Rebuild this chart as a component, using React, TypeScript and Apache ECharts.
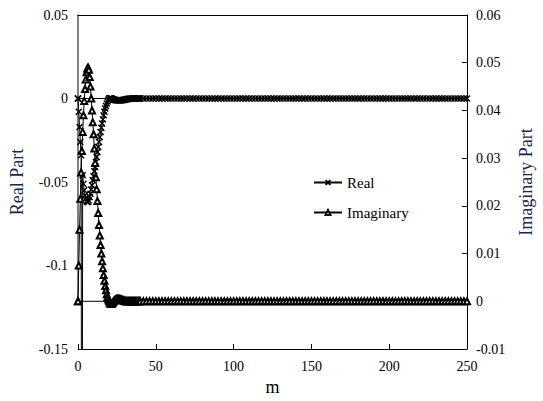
import React, { useEffect, useRef } from "react";
import * as echarts from "echarts";

// m values: first entry is the off-chart start of the imaginary trace, last entry is the return to origin
const mValues = [
  0,
  0, 0.5, 1, 1.5, 2, 2.5, 3, 3.5, 4, 4.5, 5, 5.5, 6, 6.5, 7, 7.5, 8, 8.5, 9, 9.5,
  10, 10.5, 11, 11.5, 12, 12.5, 13, 13.5, 14, 14.5, 15, 15.5, 16, 16.5, 17, 17.5, 18, 18.5, 19, 19.5,
  20, 20.5, 21, 21.5, 22, 22.5, 23, 23.5, 24, 24.5, 25, 25.5, 26, 26.5, 27, 27.5, 28, 28.5, 29, 29.5,
  30, 30.5, 31, 31.5, 32, 32.5, 33, 33.5, 34, 34.5, 35, 35.5, 36, 36.5, 37, 37.5, 38, 38.5, 39, 39.5, 40,
  42, 44, 46, 48, 50, 52, 54, 56, 58, 60,
  62, 64, 66, 68, 70, 72, 74, 76, 78, 80,
  82, 84, 86, 88, 90, 92, 94, 96, 98, 100,
  102, 104, 106, 108, 110, 112, 114, 116, 118, 120,
  122, 124, 126, 128, 130, 132, 134, 136, 138, 140,
  142, 144, 146, 148, 150, 152, 154, 156, 158, 160,
  162, 164, 166, 168, 170, 172, 174, 176, 178, 180,
  182, 184, 186, 188, 190, 192, 194, 196, 198, 200,
  202, 204, 206, 208, 210, 212, 214, 216, 218, 220,
  222, 224, 226, 228, 230, 232, 234, 236, 238, 240,
  242, 244, 246, 248, 250,
  0,
];

const realPart = [
  0,
  0, -0.008, -0.017, -0.026, -0.034, -0.4, -0.046, -0.051, -0.055, -0.058, -0.06, -0.0615, -0.062, -0.062, -0.061, -0.059, -0.057, -0.0545, -0.052, -0.049,
  -0.0465, -0.0435, -0.041, -0.038, -0.035, -0.032, -0.029, -0.026, -0.023, -0.02, -0.0175, -0.015, -0.0125, -0.01, -0.008, -0.006, -0.0045, -0.003, -0.0018, -0.0008,
  0, 0.0002, 0.0002, 0, -0.0003, -0.0005, -0.0007, -0.0008, -0.0009, -0.001, -0.0011, -0.0011, -0.0012, -0.0012, -0.0012, -0.0011, -0.0011, -0.001, -0.0009, -0.0008,
  -0.0007, -0.0006, -0.0005, -0.0004, -0.0003, -0.0002, -0.0002, -0.0001, -0.0001, 0, 0, 0, 0, 0, 0, 0, 0, 0, 0, 0, 0,
  0, 0, 0, 0, 0, 0, 0, 0, 0, 0, 0, 0, 0, 0, 0,
  0, 0, 0, 0, 0, 0, 0, 0, 0, 0, 0, 0, 0, 0, 0,
  0, 0, 0, 0, 0, 0, 0, 0, 0, 0, 0, 0, 0, 0, 0,
  0, 0, 0, 0, 0, 0, 0, 0, 0, 0, 0, 0, 0, 0, 0,
  0, 0, 0, 0, 0, 0, 0, 0, 0, 0, 0, 0, 0, 0, 0,
  0, 0, 0, 0, 0, 0, 0, 0, 0, 0, 0, 0, 0, 0, 0,
  0, 0, 0, 0, 0, 0, 0, 0, 0, 0, 0, 0, 0, 0, 0,
  0,
];

const imaginaryPart = [
  0.2,
  0, 0.0075, 0.015, 0.0215, 0.027, 0.0315, 0.0355, 0.039, 0.042, 0.0445, 0.0465, 0.048, 0.0488, 0.049, 0.0485, 0.047, 0.045, 0.0425, 0.04, 0.0375,
  0.035, 0.032, 0.029, 0.026, 0.0235, 0.021, 0.0185, 0.016, 0.0138, 0.0118, 0.01, 0.0084, 0.0069, 0.0055, 0.0043, 0.0032, 0.0023, 0.0015, 0.0009, 0.0004,
  0, -0.0003, -0.0005, -0.0005, -0.0004, -0.0002, 0, 0.0002, 0.0003, 0.0004, 0.0005, 0.0005, 0.0005, 0.0005, 0.0004, 0.0004, 0.0003, 0.0002, 0.0002, 0.0001,
  0.0001, 0, 0, 0, 0, 0, 0, 0, 0, 0, 0, 0, 0, 0, 0, 0, 0, 0, 0, 0, 0,
  0, 0, 0, 0, 0, 0, 0, 0, 0, 0, 0, 0, 0, 0, 0,
  0, 0, 0, 0, 0, 0, 0, 0, 0, 0, 0, 0, 0, 0, 0,
  0, 0, 0, 0, 0, 0, 0, 0, 0, 0, 0, 0, 0, 0, 0,
  0, 0, 0, 0, 0, 0, 0, 0, 0, 0, 0, 0, 0, 0, 0,
  0, 0, 0, 0, 0, 0, 0, 0, 0, 0, 0, 0, 0, 0, 0,
  0, 0, 0, 0, 0, 0, 0, 0, 0, 0, 0, 0, 0, 0, 0,
  0, 0, 0, 0, 0, 0, 0, 0, 0, 0, 0, 0, 0, 0, 0,
  0,
];

const FONT = "Liberation Serif";
const NAME_COLOR = "#1c2648";
const CROSS = "path://M0,0L10,10M10,0L0,10";

const fmt = (v: number) => String(Number(v.toFixed(2)));

export default function App() {
  const ref = useRef<HTMLDivElement>(null);

  useEffect(() => {
    document.body.style.margin = "0";
    if (!ref.current) return;
    const chart = echarts.init(ref.current, undefined, { renderer: "svg" });
    const realData = mValues.map((m, i) => [m, realPart[i]]);
    const imagData = mValues.map((m, i) => [m, imaginaryPart[i]]);
    const axisLineStyle = { color: "#000", width: 1 };

    chart.setOption({
      animation: false,
      backgroundColor: "#fff",
      textStyle: { fontFamily: FONT },
      grid: { left: 77, right: 65, top: 15, bottom: 52, containLabel: false },
      legend: {
        orient: "vertical",
        left: 308,
        top: 170,
        itemWidth: 28,
        itemHeight: 6,
        itemGap: 15,
        data: ["Real", "Imaginary"],
        textStyle: { fontFamily: FONT, fontSize: 15, color: "#000" },
      },
      xAxis: [
        {
          type: "value",
          min: 0,
          max: 250,
          interval: 50,
          position: "bottom",
          axisLine: { show: true, onZero: false, lineStyle: axisLineStyle },
          axisTick: { show: true, inside: true, length: 5, lineStyle: axisLineStyle },
          axisLabel: { fontFamily: FONT, fontSize: 14, color: "#000", margin: 10 },
          splitLine: { show: false },
          name: "m",
          nameLocation: "middle",
          nameGap: 25,
          nameTextStyle: { fontFamily: FONT, fontSize: 18, color: "#000" },
        },
        {
          type: "value",
          min: 0,
          max: 250,
          position: "top",
          axisLine: { show: true, onZero: false, lineStyle: axisLineStyle },
          axisTick: { show: false },
          axisLabel: { show: false },
          splitLine: { show: false },
        },
      ],
      yAxis: [
        {
          type: "value",
          min: -0.15,
          max: 0.05,
          interval: 0.05,
          position: "left",
          axisLine: { show: false, onZero: false },
          axisTick: { show: false },
          axisLabel: { fontFamily: FONT, fontSize: 14, color: "#000", margin: 10, formatter: fmt },
          splitLine: { show: false },
          name: "Real Part",
          nameLocation: "middle",
          nameRotate: 90,
          nameGap: 52,
          nameTextStyle: { fontFamily: FONT, fontSize: 18, color: NAME_COLOR },
        },
        {
          type: "value",
          min: -0.01,
          max: 0.06,
          interval: 0.01,
          position: "right",
          axisLine: { show: true, onZero: false, lineStyle: axisLineStyle },
          axisTick: { show: true, inside: true, length: 5, lineStyle: axisLineStyle },
          axisLabel: { fontFamily: FONT, fontSize: 14, color: "#000", margin: 9, formatter: fmt },
          splitLine: { show: false },
          name: "Imaginary Part",
          nameLocation: "middle",
          nameRotate: 90,
          nameGap: 50,
          nameTextStyle: { fontFamily: FONT, fontSize: 18, color: NAME_COLOR },
        },
      ],
      series: [
        {
          type: "line",
          name: "Real",
          xAxisIndex: 0,
          yAxisIndex: 0,
          data: realData,
          symbol: CROSS,
          symbolSize: 6,
          showAllSymbol: true,
          clip: true,
          lineStyle: { color: "#000", width: 1 },
          itemStyle: { color: "#000", borderColor: "#000", borderWidth: 1.4 },
        },
        {
          type: "line",
          name: "Imaginary",
          xAxisIndex: 0,
          yAxisIndex: 1,
          data: imagData,
          symbol: "emptyTriangle",
          symbolSize: 6,
          showAllSymbol: true,
          clip: true,
          lineStyle: { color: "#000", width: 1 },
          itemStyle: { color: "#000", borderColor: "#000", borderWidth: 1.2 },
        },
      ],
    });

    return () => chart.dispose();
  }, []);

  return (
    <div
      ref={ref}
      style={{ position: "absolute", left: 0, top: 0, width: 543, height: 401, background: "#fff" }}
    />
  );
}
